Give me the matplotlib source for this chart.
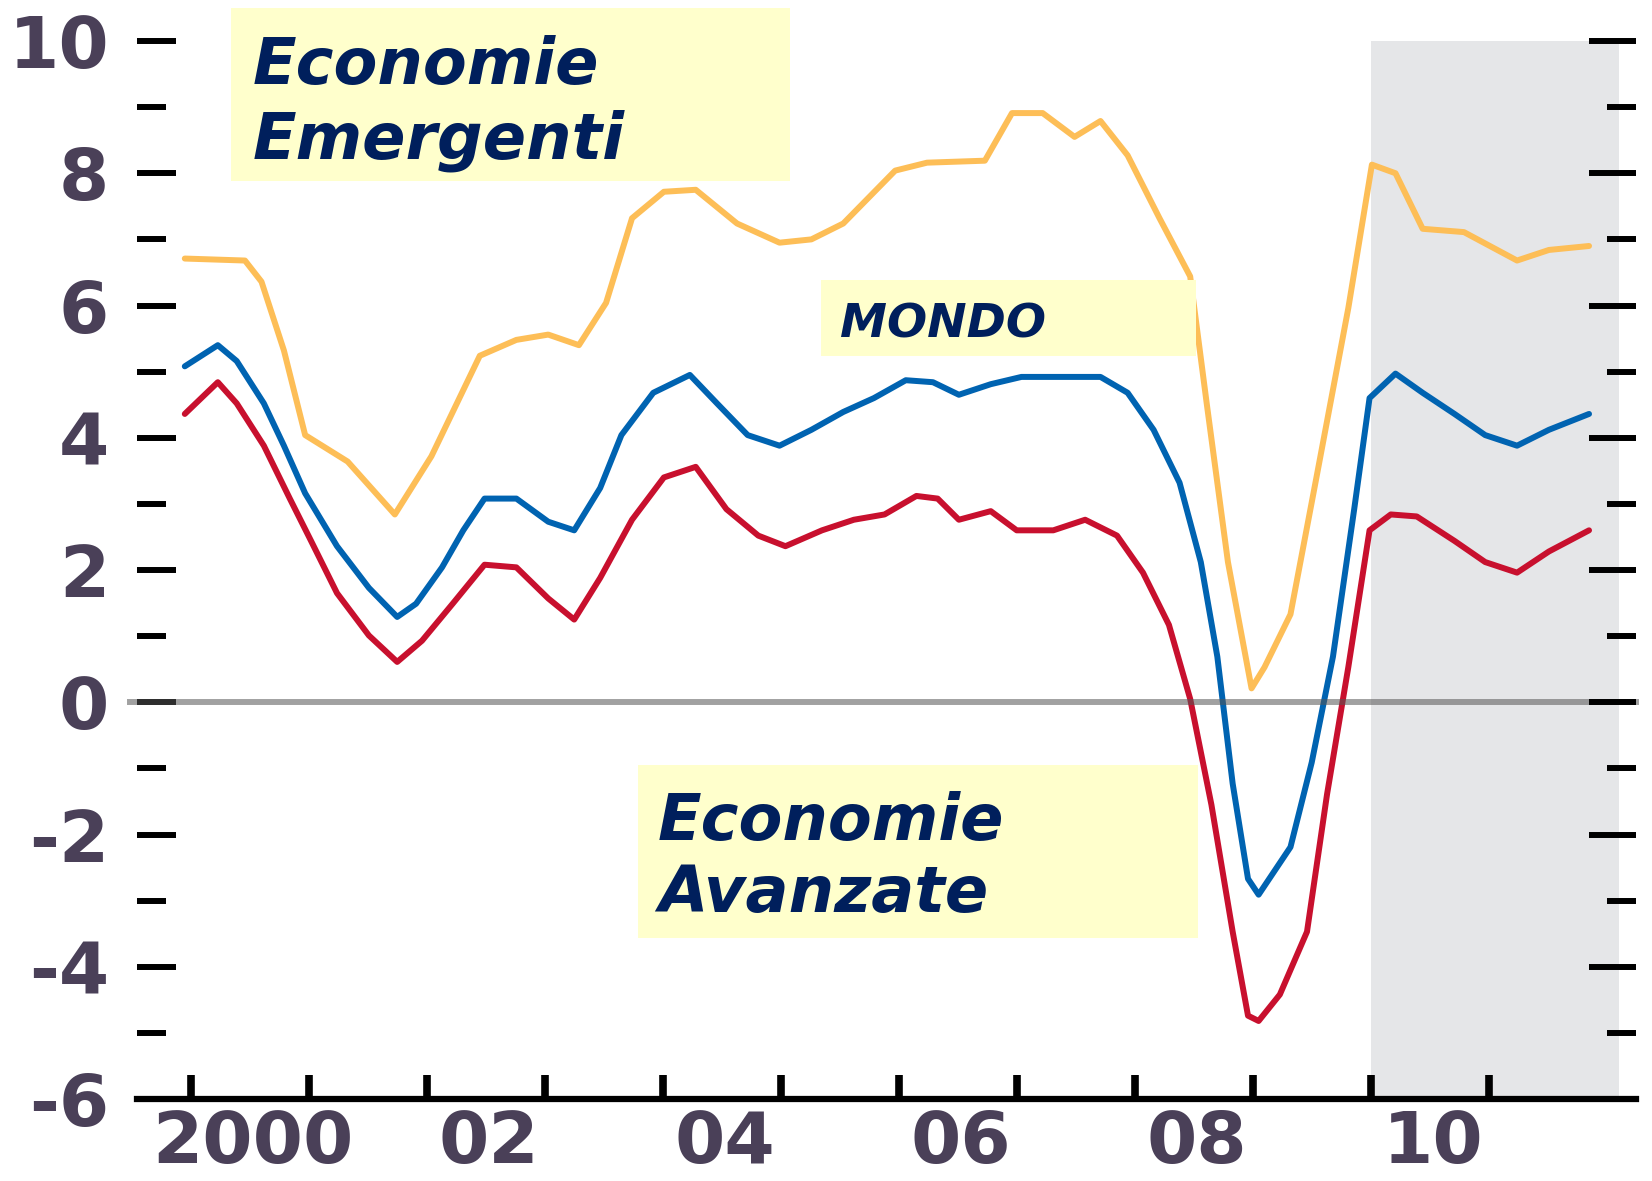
import matplotlib.pyplot as plt
from matplotlib.patches import Rectangle

# ---- data (year, % change) ----
emerg_x = [1999.95, 2000.46, 2000.60, 2000.79, 2000.97, 2001.33, 2001.73, 2002.04,
           2002.45, 2002.76, 2003.03, 2003.29, 2003.52, 2003.74, 2004.01, 2004.28,
           2004.63, 2004.99, 2005.26, 2005.53, 2005.97, 2006.24, 2006.73, 2006.96,
           2007.22, 2007.49, 2007.71, 2007.94, 2008.21, 2008.47, 2008.61, 2008.79,
           2008.99, 2009.10, 2009.32, 2009.54, 2009.81, 2010.01, 2010.21, 2010.44,
           2010.79, 2011.24, 2011.51, 2011.85]
emerg_y = [6.71, 6.68, 6.36, 5.32, 4.04, 3.64, 2.84, 3.72,
           5.24, 5.48, 5.56, 5.40, 6.04, 7.32, 7.72, 7.75,
           7.24, 6.95, 7.00, 7.24, 8.04, 8.16, 8.19, 8.91,
           8.91, 8.55, 8.79, 8.27, 7.32, 6.44, 4.52, 2.12,
           0.21, 0.53, 1.33, 3.40, 5.96, 8.13, 8.00, 7.16,
           7.11, 6.68, 6.84, 6.90]

world_x = [1999.95, 2000.23, 2000.39, 2000.62, 2000.79, 2000.97, 2001.24, 2001.51,
           2001.75, 2001.91, 2002.13, 2002.31, 2002.49, 2002.76, 2003.03, 2003.25,
           2003.47, 2003.65, 2003.92, 2004.23, 2004.46, 2004.72, 2004.99, 2005.26,
           2005.53, 2005.79, 2006.06, 2006.29, 2006.51, 2006.78, 2007.04, 2007.71,
           2007.94, 2008.16, 2008.38, 2008.56, 2008.70, 2008.83, 2008.96, 2009.05,
           2009.32, 2009.50, 2009.68, 2009.86, 2009.99, 2010.21, 2010.44, 2010.71,
           2010.97, 2011.24, 2011.51, 2011.85]
world_y = [5.08, 5.40, 5.16, 4.52, 3.88, 3.16, 2.36, 1.73,
           1.29, 1.49, 2.04, 2.60, 3.08, 3.08, 2.73, 2.60,
           3.24, 4.04, 4.68, 4.95, 4.52, 4.04, 3.88, 4.12,
           4.39, 4.60, 4.87, 4.84, 4.65, 4.81, 4.92, 4.92,
           4.68, 4.12, 3.32, 2.12, 0.69, -1.23, -2.67, -2.91,
           -2.19, -0.91, 0.69, 2.92, 4.60, 4.97, 4.68, 4.36,
           4.04, 3.88, 4.12, 4.36]

adv_x = [1999.95, 2000.23, 2000.39, 2000.62, 2000.84, 2001.02, 2001.24, 2001.51,
         2001.75, 2001.96, 2002.22, 2002.49, 2002.76, 2003.03, 2003.25, 2003.47,
         2003.74, 2004.01, 2004.28, 2004.54, 2004.81, 2005.04, 2005.35, 2005.62,
         2005.88, 2006.15, 2006.33, 2006.51, 2006.78, 2007.00, 2007.31, 2007.58,
         2007.85, 2008.07, 2008.29, 2008.47, 2008.65, 2008.83, 2008.96, 2009.05,
         2009.23, 2009.46, 2009.63, 2009.81, 2009.99, 2010.17, 2010.39, 2010.71,
         2010.97, 2011.24, 2011.51, 2011.85]
adv_y = [4.36, 4.84, 4.52, 3.88, 3.08, 2.44, 1.65, 1.01,
         0.61, 0.93, 1.49, 2.08, 2.04, 1.57, 1.25, 1.88,
         2.76, 3.40, 3.56, 2.92, 2.52, 2.36, 2.60, 2.76,
         2.84, 3.12, 3.08, 2.76, 2.89, 2.60, 2.60, 2.76,
         2.52, 1.96, 1.17, 0.05, -1.55, -3.47, -4.74, -4.82,
         -4.42, -3.47, -1.39, 0.53, 2.60, 2.84, 2.81, 2.44,
         2.12, 1.96, 2.28, 2.60]

year_ticks = list(range(2000, 2012))
label_pos = [2000.53, 2002.53, 2004.53, 2006.53, 2008.53, 2010.53]
label_txt = ['2000', '02', '04', '06', '08', '10']
y_major = list(range(-6, 11, 2))
y_minor = list(range(-5, 10, 2))
forecast_span = (2010.0, 2012.1)

# ---- figure ----
W, H = 1652, 1181
fig = plt.figure(figsize=(W / 100, H / 100), dpi=100)
ax = fig.add_axes([137 / W, 1 - 1099 / H, (1636 - 137) / W, (1099 - 41) / H])
ax.set_xlim(1999.545, 2012.248)
ax.set_ylim(-6, 10)

ax.axvspan(*forecast_span, color='#e5e6e8', lw=0, zorder=0)

line_kw = dict(lw=4.3, zorder=3, solid_joinstyle='round', solid_capstyle='round')
ax.plot(emerg_x, emerg_y, color='#fdbe57', **line_kw)
ax.plot(world_x, world_y, color='#0063b1', **line_kw)
ax.plot(adv_x, adv_y, color='#c8102e', **line_kw)

ax.axhline(0, xmin=-0.005, xmax=1.0, color='#555555', alpha=0.55, lw=4.3,
           zorder=4, clip_on=False)

for s in ['top', 'left', 'right']:
    ax.spines[s].set_visible(False)
ax.spines['bottom'].set_linewidth(4.5)
ax.spines['bottom'].set_zorder(5)

lab_color = '#4a4058'
ax.set_xticks(year_ticks)
ax.set_xticklabels([])
ax.set_xticks(label_pos, label_txt, minor=True)
ax.tick_params(axis='x', which='major', direction='in', length=17, width=5.5)
ax.tick_params(axis='x', which='minor', length=0, pad=7, labelsize=52,
               labelcolor=lab_color)

ax.set_yticks(y_major, [str(v) for v in y_major])
ax.set_yticks(y_minor, minor=True)
ax.tick_params(axis='y', which='major', direction='in', length=28, width=4.3,
               pad=20, labelsize=52, labelcolor=lab_color)
ax.tick_params(axis='y', which='minor', direction='in', length=21, width=4.3)
for t in ax.get_xticklabels(minor=True) + ax.get_yticklabels():
    t.set_fontweight('bold')

ax2 = ax.twinx()
ax2.set_ylim(-6, 10)
for s in ax2.spines.values():
    s.set_visible(False)
ax2.set_yticks(y_major)
ax2.set_yticks(y_minor, minor=True)
ax2.tick_params(axis='y', which='major', direction='in', length=34, width=4.3,
                labelright=False)
ax2.tick_params(axis='y', which='minor', direction='in', length=21, width=4.3)

# ---- labelled boxes ----
navy = '#001f5c'
box = '#ffffcc'


def label_box(x0, y0, x1, y1):
    fig.add_artist(Rectangle((x0 / W, 1 - y1 / H), (x1 - x0) / W, (y1 - y0) / H,
                             transform=fig.transFigure, facecolor=box,
                             edgecolor='none', zorder=6))


def label_text(x, y, s, size):
    fig.text(x / W, 1 - y / H, s, fontsize=size, fontweight='bold',
             style='italic', color=navy, va='baseline', ha='left', zorder=7)


label_box(231, 8, 790, 181)
label_text(253, 84, 'Economie', 46)
label_text(253, 158, 'Emergenti', 46)

label_box(821, 280, 1196, 356)
label_text(840, 337, 'MONDO', 34)

label_box(638, 765, 1198, 938)
label_text(658, 840, 'Economie', 46)
label_text(658, 912, 'Avanzate', 46)

fig.savefig('out.png', dpi=100)
